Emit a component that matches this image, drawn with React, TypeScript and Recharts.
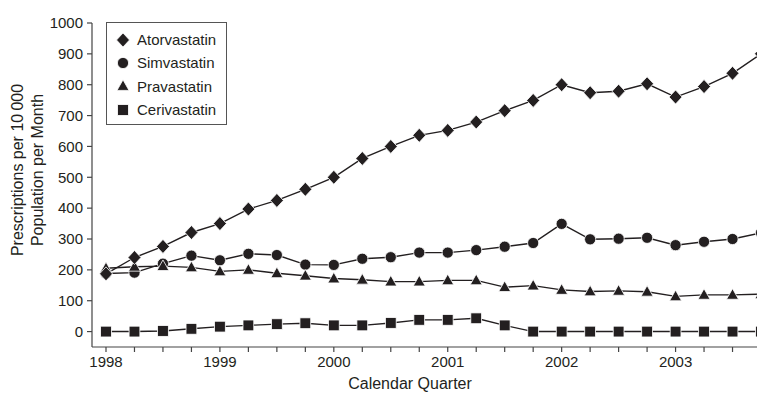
import React from 'react'
import { LineChart, Line, XAxis, YAxis, Legend } from 'recharts'

const quarters = [
  '1998 Q1', '1998 Q2', '1998 Q3', '1998 Q4',
  '1999 Q1', '1999 Q2', '1999 Q3', '1999 Q4',
  '2000 Q1', '2000 Q2', '2000 Q3', '2000 Q4',
  '2001 Q1', '2001 Q2', '2001 Q3', '2001 Q4',
  '2002 Q1', '2002 Q2', '2002 Q3', '2002 Q4',
  '2003 Q1', '2003 Q2', '2003 Q3', '2003 Q4',
]

const atorvastatin = [187, 240, 276, 321, 350, 397, 425, 461, 500, 561, 600, 636, 652, 679, 716, 749, 800, 774, 779, 803, 760, 794, 837, 900]
const simvastatin = [188, 191, 220, 246, 231, 252, 248, 217, 216, 236, 241, 256, 256, 264, 275, 287, 349, 299, 301, 304, 280, 291, 300, 320]
const pravastatin = [205, 210, 212, 208, 195, 200, 189, 181, 172, 168, 162, 162, 166, 166, 144, 149, 135, 130, 132, 129, 114, 119, 119, 121]
const cerivastatin = [0, 0, 2, 9, 16, 20, 24, 27, 20, 20, 28, 38, 38, 43, 20, 0, 0, 0, 0, 0, 0, 0, 0, 0]

const yTicks = [0, 100, 200, 300, 400, 500, 600, 700, 800, 900, 1000]

const ink = '#231f20'
const axisColor = '#444'
const font = '"Liberation Sans", Arial, Helvetica, sans-serif'

type Shape = 'diamond' | 'circle' | 'triangle' | 'square'

const data = quarters.map((q, i) => ({
  q,
  atorvastatin: atorvastatin[i],
  simvastatin: simvastatin[i],
  pravastatin: pravastatin[i],
  cerivastatin: cerivastatin[i],
}))

// legend order
const series: { key: string; name: string; shape: Shape }[] = [
  { key: 'atorvastatin', name: 'Atorvastatin', shape: 'diamond' },
  { key: 'simvastatin', name: 'Simvastatin', shape: 'circle' },
  { key: 'pravastatin', name: 'Pravastatin', shape: 'triangle' },
  { key: 'cerivastatin', name: 'Cerivastatin', shape: 'square' },
]

// drawing order (diamonds end up on top)
const drawOrder = ['cerivastatin', 'simvastatin', 'pravastatin', 'atorvastatin']

const Marker = ({ shape, cx, cy }: { shape: Shape; cx: number; cy: number }) => {
  const common = { fill: ink, stroke: '#fff', strokeWidth: 0.8 }
  if (shape === 'diamond') {
    return <polygon points={`${cx},${cy - 7} ${cx + 6.5},${cy} ${cx},${cy + 7} ${cx - 6.5},${cy}`} {...common} />
  }
  if (shape === 'circle') {
    return <circle cx={cx} cy={cy} r={5.6} {...common} />
  }
  if (shape === 'triangle') {
    return <polygon points={`${cx},${cy - 6.2} ${cx + 6},${cy + 4.4} ${cx - 6},${cy + 4.4}`} {...common} />
  }
  return <rect x={cx - 5.4} y={cy - 5.4} width={10.8} height={10.8} {...common} />
}

const makeDot = (shape: Shape) => (props: any) => {
  const { cx, cy, index } = props
  if (cx == null || cy == null) return <g key={`${shape}-${index}`} />
  return (
    <g key={`${shape}-${index}`}>
      <Marker shape={shape} cx={cx} cy={cy} />
    </g>
  )
}

const QuarterTick = (props: any) => {
  const { x, y, payload } = props
  const [year, q] = String(payload.value).split(' ')
  if (q !== 'Q1') return <g />
  return (
    <text x={x} y={y} dy="0.71em" textAnchor="middle" fontSize={15} fill={ink} fontFamily={font}>
      {year}
    </text>
  )
}

const LegendBox = () => (
  <div
    style={{
      width: 121,
      height: 103,
      boxSizing: 'border-box',
      border: '1px solid #555',
      background: '#fff',
      paddingTop: 5,
      fontFamily: font,
      fontSize: 15,
      color: ink,
    }}
  >
    {series.map((s) => (
      <div key={s.key} style={{ display: 'flex', alignItems: 'center', height: 23.3 }}>
        <svg width={14} height={16} style={{ marginLeft: 9, marginRight: 7 }}>
          <Marker shape={s.shape} cx={7} cy={8} />
        </svg>
        <span>{s.name}</span>
      </div>
    ))}
  </div>
)

const App = () => {
  return (
    <div
      style={{
        position: 'absolute',
        left: 0,
        top: 0,
        width: 757,
        height: 395,
        overflow: 'hidden',
        background: '#fff',
      }}
    >
      <LineChart width={775} height={395} data={data} margin={{ top: 23, right: 0, bottom: 0, left: 32 }}>
        <XAxis
          dataKey="q"
          interval={0}
          height={48}
          padding={{ left: 14, right: 14 }}
          stroke={axisColor}
          strokeWidth={1.2}
          tickSize={5}
          tickMargin={4}
          tick={<QuarterTick />}
          label={{
            content: () => (
              <text x={410} y={389} textAnchor="middle" fontSize={16} fill={ink} fontFamily={font}>
                Calendar Quarter
              </text>
            ),
          }}
        />
        <YAxis
          type="number"
          domain={[-50, 1000]}
          ticks={yTicks}
          interval={0}
          width={60}
          stroke={axisColor}
          strokeWidth={1.2}
          tickSize={5}
          tickMargin={4}
          tick={{ fontSize: 15, fill: ink, fontFamily: font }}
          label={{
            content: () => (
              <text transform="rotate(-90)" textAnchor="middle" fontSize={16} fill={ink} fontFamily={font}>
                <tspan x={-170} y={23}>Prescriptions per 10{'\u2009'}000</tspan>
                <tspan x={-170} y={43}>Population per Month</tspan>
              </text>
            ),
          }}
        />
        <Legend
          layout="vertical"
          align="center"
          verticalAlign="middle"
          content={<LegendBox />}
          wrapperStyle={{ left: 106, top: 22, width: 121, height: 103 }}
        />
        {drawOrder.map((key) => {
          const s = series.find((d) => d.key === key)!
          return (
            <Line
              key={s.key}
              dataKey={s.key}
              name={s.name}
              type="linear"
              stroke={ink}
              strokeWidth={1.4}
              dot={makeDot(s.shape)}
              activeDot={false}
              isAnimationActive={false}
            />
          )
        })}
      </LineChart>
    </div>
  )
}

export default App
